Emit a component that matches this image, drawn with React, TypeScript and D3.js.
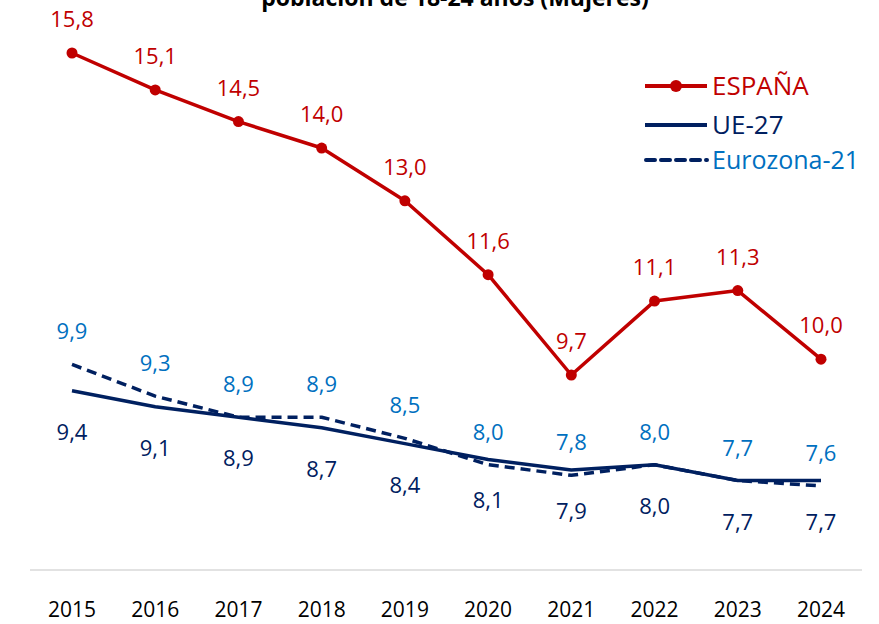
import React from "react";
import * as d3 from "d3";

const years = ["2015","2016","2017","2018","2019","2020","2021","2022","2023","2024"];
const espana = [15.8, 15.1, 14.5, 14.0, 13.0, 11.6, 9.7, 11.1, 11.3, 10.0];
const ue27 = [9.4, 9.1, 8.9, 8.7, 8.4, 8.1, 7.9, 8.0, 7.7, 7.7];
const eurozona = [9.9, 9.3, 8.9, 8.9, 8.5, 8.0, 7.8, 8.0, 7.7, 7.6];
const eurozonaLabels = [9.9, 9.3, 8.9, 8.9, 8.5, 8.0, 7.8, 8.0, 7.7, 7.6];
const ue27Labels = [9.4, 9.1, 8.9, 8.7, 8.4, 8.1, 7.9, 8.0, 7.7, 7.7];
const seriesNames = ["ESPAÑA", "UE-27", "Eurozona-21"];
const titleText = "población de 18-24 años (Mujeres)";

const RED = "#c00000";
const NAVY = "#002060";
const LBLUE = "#0070c0";
const FONT = "'Open Sans', 'Noto Sans', sans-serif";

export default function App() {
  const W = 879, H = 624;
  const x = d3.scalePoint<string>().domain(years).range([72, 821]);
  const y = d3.scaleLinear().domain([9.7, 15.8]).range([375, 53]);
  const fmt = (v: number) => v.toFixed(1).replace(".", ",");
  const line = d3.line<number>().x((_, i) => x(years[i])!).y((d) => y(d));

  return (
    <svg width={W} height={H} style={{ position: "absolute", left: 0, top: 0, background: "#fff" }}>
      <text x={455} y={6} textAnchor="middle" fontFamily={FONT} fontWeight="bold" fontSize={23} fill="#000">
        {titleText}
      </text>
      <line x1={30} x2={862} y1={570} y2={570} stroke="#d9d9d9" strokeWidth={1.5} />
      {years.map((yr) => (
        <text key={yr} x={x(yr)} y={617} textAnchor="middle" fontFamily={FONT} fontSize={21} fill="#000">{yr}</text>
      ))}
      <path d={line(ue27)!} fill="none" stroke={NAVY} strokeWidth={3.5} strokeLinejoin="round" />
      <path d={line(eurozona)!} fill="none" stroke={NAVY} strokeWidth={3.5} strokeDasharray="10,6" strokeLinejoin="round" />
      <path d={line(espana)!} fill="none" stroke={RED} strokeWidth={3.5} strokeLinejoin="round" />
      {espana.map((v, i) => (
        <circle key={i} cx={x(years[i])} cy={y(v)} r={5.5} fill={RED} />
      ))}
      {espana.map((v, i) => (
        <text key={"e" + i} x={x(years[i])} y={y(v) - 26} textAnchor="middle" fontFamily={FONT} fontSize={22} fill={RED}>{fmt(v)}</text>
      ))}
      {eurozonaLabels.map((v, i) => (
        <text key={"z" + i} x={x(years[i])} y={y(eurozona[i]) - 25} textAnchor="middle" fontFamily={FONT} fontSize={22} fill={LBLUE}>{fmt(v)}</text>
      ))}
      {ue27Labels.map((v, i) => (
        <text key={"u" + i} x={x(years[i])} y={y(ue27[i]) + 49} textAnchor="middle" fontFamily={FONT} fontSize={22} fill={NAVY}>{fmt(v)}</text>
      ))}
      <g>
        <line x1={645} x2={707} y1={86} y2={86} stroke={RED} strokeWidth={4} />
        <circle cx={676} cy={86} r={6} fill={RED} />
        <text x={712} y={95} fontFamily={FONT} fontSize={26} fill={RED}>{seriesNames[0]}</text>
        <line x1={645} x2={707} y1={125} y2={125} stroke={NAVY} strokeWidth={4} />
        <text x={712} y={134} fontFamily={FONT} fontSize={26} fill={NAVY}>{seriesNames[1]}</text>
        <line x1={646} x2={707} y1={160} y2={160} stroke={NAVY} strokeWidth={4} strokeDasharray="9,6" strokeLinecap="round" />
        <text x={712} y={169} fontFamily={FONT} fontSize={25} fill={LBLUE}>{seriesNames[2]}</text>
      </g>
    </svg>
  );
}
